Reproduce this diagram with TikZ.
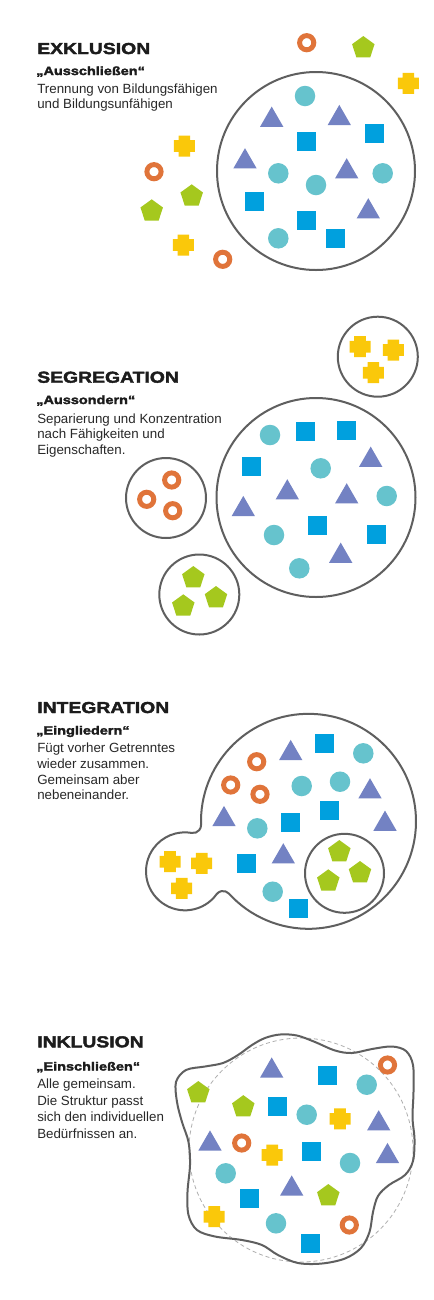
\documentclass[tikz,border=0pt]{standalone}
\usepackage{fontspec}
\setmainfont{Liberation Sans}
\newfontfamily\blackfont[FakeStretch=1.22,BoldFeatures={FakeBold=2.4}]{Liberation Sans}
\definecolor{cteal}{RGB}{102,195,205}
\definecolor{cblue}{RGB}{0,160,222}
\definecolor{cslate}{RGB}{115,130,195}
\definecolor{corange}{RGB}{224,116,58}
\definecolor{cgreen}{RGB}{165,200,30}
\definecolor{cyellow}{RGB}{250,200,10}
\definecolor{cline}{RGB}{95,95,95}
\definecolor{cdash}{RGB}{175,175,175}
\definecolor{ctitle}{RGB}{28,28,28}
\definecolor{cbody}{RGB}{40,40,40}
\tikzset{
  outline/.style={draw=cline, line width=1.5pt},
  dashring/.style={draw=cdash, line width=0.6pt, dash pattern=on 3pt off 2.2pt},
  titletext/.style={anchor=base west, inner sep=0pt, text=ctitle, font=\blackfont\bfseries\fontsize{11.9}{14}\selectfont},
  subtext/.style={anchor=base west, inner sep=0pt, text=ctitle, font=\blackfont\bfseries\fontsize{8.9}{10}\selectfont},
  bodytext/.style={anchor=base west, inner sep=0pt, text=cbody, font=\fontsize{10}{12}\selectfont},
  tcirc/.pic={\fill[cteal] (0,0) circle (10.25);},
  bsq/.pic={\fill[cblue] (-9.5,-9.5) rectangle (9.5,9.5);},
  tri/.pic={\fill[cslate] (0,10.1) -- (11.65,-10.1) -- (-11.65,-10.1) -- cycle;},
  oring/.pic={\draw[corange, line width=3.7pt] (0,0) circle (7.1);},
  pent/.pic={\fill[cgreen] (0,10.67) -- (11.22,2.52) -- (6.94,-10.68) -- (-6.94,-10.68) -- (-11.22,2.52) -- cycle;},
  ycross/.pic={\fill[cyellow] (-5.8,-10.5) -- (5.8,-10.5) -- (5.8,-5.8) -- (10.5,-5.8) -- (10.5,5.8) -- (5.8,5.8) -- (5.8,10.5) -- (-5.8,10.5) -- (-5.8,5.8) -- (-10.5,5.8) -- (-10.5,-5.8) -- (-5.8,-5.8) -- cycle;}
}
\begin{document}
\begin{tikzpicture}[x=0.75pt, y=0.75pt, yscale=-1]
\useasboundingbox (0,0) rectangle (433,1300);
\fill[white] (0,0) rectangle (433,1300);

% ---------------- EXKLUSION ----------------
\node[titletext] (t1) at (37,54) {EXKLUSION};
\node[subtext] (s1) at (36,75) {„Ausschließen“};
\node[bodytext] (b1a) at (37,93.5) {Trennung von Bildungsfähigen};
\node[bodytext] (b1b) at (37,108.5) {und Bildungsunfähigen};
\draw[outline] (316,171) circle (99);
\foreach \p in {(305,96),(278.3,173.3),(382.7,173.3),(316,185),(278.3,238.3)} \pic at \p {tcirc};
\foreach \p in {(271.7,116.7),(339.3,115),(245,158.3),(346.7,168.3),(368.3,208.3)} \pic at \p {tri};
\foreach \p in {(374,133.3),(306,141.7),(254,201),(306,220),(335,238.3)} \pic at \p {bsq};
\foreach \p in {(306.7,42.7),(154,171.7),(222.7,259.3)} \pic at \p {oring};
\foreach \p in {(363.3,46.7),(191.7,195),(151.7,210)} \pic at \p {pent};
\foreach \p in {(408.3,83.3),(184.3,146),(183.3,245)} \pic at \p {ycross};

% ---------------- SEGREGATION ----------------
\node[titletext] (t2) at (37,382.7) {SEGREGATION};
\node[subtext] (s2) at (36,404) {„Aussondern“};
\node[bodytext] (b2a) at (37,423.3) {Separierung und Konzentration};
\node[bodytext] (b2b) at (37,438.6) {nach Fähigkeiten und};
\node[bodytext] (b2c) at (37,454) {Eigenschaften.};
\draw[outline] (377.8,356.7) circle (40);
\draw[outline] (316,497.5) circle (99.5);
\draw[outline] (166,498) circle (40);
\draw[outline] (199.3,594.5) circle (40);
\foreach \p in {(360,346.7),(393.3,350),(373.3,372.7)} \pic at \p {ycross};
\foreach \p in {(171.7,480),(146.7,499.3),(172.7,510.7)} \pic at \p {oring};
\foreach \p in {(193.3,576.7),(216,596.7),(183.3,605)} \pic at \p {pent};
\foreach \p in {(270,435),(320.7,468.3),(386.7,496),(274,535),(299.3,568.3)} \pic at \p {tcirc};
\foreach \p in {(305,431),(346,430),(251.7,466),(317.3,525),(376,534.3)} \pic at \p {bsq};
\foreach \p in {(370.7,456.7),(287.3,489.3),(346.7,493.3),(243.3,506),(340.7,552.7)} \pic at \p {tri};

% ---------------- INTEGRATION ----------------
\node[titletext] (t3) at (37,713) {INTEGRATION};
\node[subtext] (s3) at (36,734.5) {„Eingliedern“};
\node[bodytext] (b3a) at (37,752.5) {Fügt vorher Getrenntes};
\node[bodytext] (b3b) at (37,768) {wieder zusammen.};
\node[bodytext] (b3c) at (37,784) {Gemeinsam aber};
\node[bodytext] (b3d) at (37,799.5) {nebeneinander.};
\draw[outline] (201.06,824.74) arc[start angle=178.17, end angle=497.75, radius=107.5]
  arc[start angle=-42.27, end angle=-143.94, radius=8]
  arc[start angle=36.05, end angle=279.88, radius=39]
  arc[start angle=99.86, end angle=-1.86, radius=8] -- cycle;
\draw[outline] (344.5,873.3) circle (39.5);
\foreach \p in {(339.3,850.7),(360,871.7),(328.3,880)} \pic at \p {pent};
\foreach \p in {(170,861.7),(201.7,863.3),(181.7,888.3)} \pic at \p {ycross};
\foreach \p in {(256.7,761.7),(230.7,785),(260,794.3)} \pic at \p {oring};
\foreach \p in {(363.3,753.3),(301.7,786),(340,781.7),(257.3,828.3),(272.7,891.7)} \pic at \p {tcirc};
\foreach \p in {(324.3,743.3),(329.3,810),(290.7,822.3),(246.7,863.3),(298.3,908.3)} \pic at \p {bsq};
\foreach \p in {(290.7,750),(370,788.3),(224,816),(385,820.7),(283.3,853.3)} \pic at \p {tri};

% ---------------- INKLUSION ----------------
\node[titletext] (t4) at (37,1047.3) {INKLUSION};
\node[subtext] (s4) at (36,1070.5) {„Einschließen“};
\node[bodytext] (b4a) at (37,1088.3) {Alle gemeinsam.};
\node[bodytext] (b4b) at (37,1105) {Die Struktur passt};
\node[bodytext] (b4c) at (37,1121.7) {sich den individuellen};
\node[bodytext] (b4d) at (37,1138.3) {Bedürfnissen an.};
\draw[dashring] (301,1150) circle (112);
\draw[outline] plot[smooth cycle, tension=0.55] coordinates {
  (176,1082) (186,1070) (205,1066.5) (223,1063) (238,1055) (252,1045) (265,1038)
  (280,1034.5) (297,1035.5) (315,1042) (335,1050.5) (352,1053) (372,1049) (392,1046.5)
  (406,1051) (413,1065) (413.5,1092) (412.5,1118) (414.5,1139) (413,1161) (405,1175)
  (389,1185) (378,1196) (373,1212) (369.5,1232) (361,1248) (345,1258.5) (322,1263.5)
  (298,1263) (278,1255) (262,1245) (242,1240) (215,1236.5) (197,1230) (188.5,1215)
  (187.5,1192) (190,1165) (188.5,1142) (182,1122) (177,1102)};
\foreach \p in {(271.7,1067.5),(210,1140.5),(378.7,1120.3),(387.5,1153),(291.7,1185.5)} \pic at \p {tri};
\foreach \p in {(327.7,1075),(277.5,1106),(311.7,1151.7),(249,1198.3),(310.8,1243.3)} \pic at \p {bsq};
\foreach \p in {(387.5,1065),(241.7,1143),(349.3,1225)} \pic at \p {oring};
\foreach \p in {(366.7,1084.7),(306.7,1114.7),(350,1163),(225.7,1173.3),(276,1223.3)} \pic at \p {tcirc};
\foreach \p in {(198.3,1091.7),(243.3,1105.8),(328.3,1194.7)} \pic at \p {pent};
\foreach \p in {(340,1118.8),(272.2,1155),(214.2,1216.7)} \pic at \p {ycross};
\end{tikzpicture}
\end{document}
